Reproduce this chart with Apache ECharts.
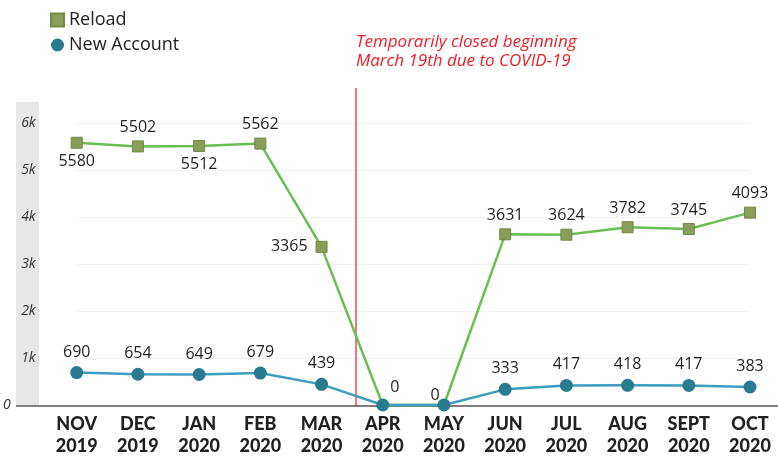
<!DOCTYPE html>
<html>
<head>
<meta charset="utf-8">
<script src="https://cdn.jsdelivr.net/npm/echarts@6/dist/echarts.min.js"></script>
<style>
html,body{margin:0;padding:0;background:#fff;}
#c{width:778px;height:458px;}
</style>
</head>
<body>
<div id="c"></div>
<script>
const categories = ['NOV\n2019','DEC\n2019','JAN\n2020','FEB\n2020','MAR\n2020','APR\n2020','MAY\n2020','JUN\n2020','JUL\n2020','AUG\n2020','SEPT\n2020','OCT\n2020'];
const reload = [5580, 5502, 5512, 5562, 3365, 0, 0, 3631, 3624, 3782, 3745, 4093];
const newAccount = [690, 654, 649, 679, 439, 0, 0, 333, 417, 418, 417, 383];
const yTicks = [0, 1000, 2000, 3000, 4000, 5000, 6000];
const annotation = ['Temporarily closed beginning', 'March 19th due to COVID-19'];

const reloadLabelPos = ['bottom','top','bottom','top','left',null,null,'top','top','top','top','top'];
const naLabelOffsets = {5: [12, 3], 6: [-9, 11]};

const chart = echarts.init(document.getElementById('c'));
const font = 'Open Sans';

chart.setOption({
  animation: false,
  backgroundColor: '#fff',
  legend: {
    orient: 'vertical',
    left: 45,
    top: 6,
    itemGap: 7,
    itemWidth: 13,
    itemHeight: 13,
    textStyle: {fontFamily: font, fontSize: 18, color: '#222'},
    data: [
      {name: 'Reload', icon: 'rect'},
      {name: 'New Account', icon: 'circle'}
    ]
  },
  grid: {left: 76, right: 28, top: 123, bottom: 53},
  xAxis: {
    type: 'category',
    data: categories,
    boundaryGap: false,
    axisLine: {show: false},
    axisTick: {show: false},
    axisLabel: {
      interval: 0,
      margin: 8,
      fontFamily: 'Lato',
      fontWeight: 900,
      fontSize: 18,
      lineHeight: 22,
      color: '#231f20'
    },
    splitLine: {show: false}
  },
  yAxis: {
    type: 'value',
    min: 0,
    max: 6000,
    interval: 1000,
    axisLine: {show: false},
    axisTick: {show: false},
    splitLine: {lineStyle: {color: '#f1f1f1', width: 1}},
    axisLabel: {
      margin: 41,
      fontFamily: font,
      fontStyle: 'italic',
      fontSize: 14,
      color: '#333',
      formatter: function (v) {
        if (yTicks.indexOf(v) < 0) return '';
        return v === 0 ? '{z|0}' : (v / 1000) + 'k';
      },
      rich: {z: {fontFamily: font, fontStyle: 'italic', fontSize: 14, color: '#333', padding: [0, 25, 0, 0]}}
    }
  },
  graphic: [
    {type: 'rect', z: -1, shape: {x: 16, y: 102, width: 23, height: 303}, style: {fill: '#e6e7e9'}},
    {type: 'line', z: 1, shape: {x1: 16, y1: 406, x2: 778, y2: 406}, style: {stroke: '#555', lineWidth: 1.5}},
    {type: 'line', z: 1, shape: {x1: 356, y1: 88, x2: 356, y2: 406}, style: {stroke: '#ee1c25', lineWidth: 1.2}},
    {type: 'text', left: 356, top: 33, z: 10,
     style: {text: annotation.join('\n'), font: 'italic 17px "Open Sans"', lineHeight: 19, fill: '#ee1c25'}}
  ],
  series: [
    {
      name: 'Reload',
      type: 'line',
      clip: false,
      data: reload.map((v, i) => ({
        value: v,
        symbolSize: reloadLabelPos[i] ? 11 : 0,
        label: reloadLabelPos[i] ? {show: true, position: reloadLabelPos[i], distance: reloadLabelPos[i] === 'left' ? 8 : 5} : {show: false}
      })),
      symbol: 'rect',
      symbolSize: 11,
      showAllSymbol: true,
      lineStyle: {color: '#6cbd55', width: 2.5},
      itemStyle: {color: '#8b9d5b', borderColor: '#6f8a41', borderWidth: 1},
      label: {fontFamily: font, fontSize: 16, color: '#231f20'},
      z: 2
    },
    {
      name: 'New Account',
      type: 'line',
      clip: false,
      data: newAccount.map((v, i) => ({
        value: v,
        label: naLabelOffsets[i] ? {show: true, position: 'top', offset: naLabelOffsets[i]} : {show: true, position: 'top'}
      })),
      symbol: 'circle',
      symbolSize: 13,
      showAllSymbol: true,
      lineStyle: {color: '#3e9cbf', width: 2.5},
      itemStyle: {color: '#2a7b90'},
      label: {fontFamily: font, fontSize: 16, color: '#231f20', distance: 6},
      z: 3
    }
  ]
});
</script>
</body>
</html>
